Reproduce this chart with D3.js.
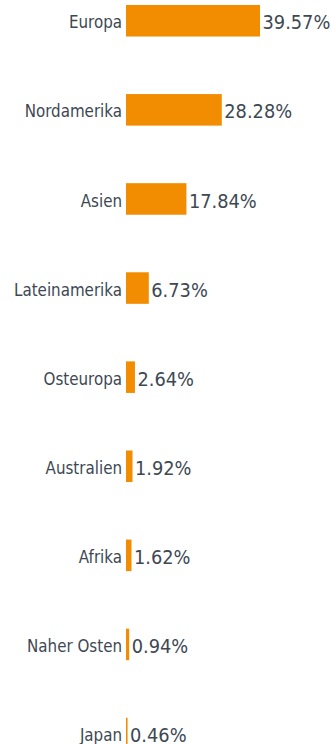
<!DOCTYPE html>
<html>
<head>
<meta charset="utf-8">
<script src="https://cdn.jsdelivr.net/npm/d3@7/dist/d3.min.js"></script>
<style>
  html, body { margin: 0; padding: 0; background: #fff; overflow: hidden; }
  svg { display: block; }
  .lbl { font-family: "DejaVu Sans Condensed", "DejaVu Sans", sans-serif; font-stretch: condensed; }
</style>
</head>
<body>
<div id="chart"></div>
<script>
// Anteil nach Region (%)
const regions = ["Europa", "Nordamerika", "Asien", "Lateinamerika", "Osteuropa",
                 "Australien", "Afrika", "Naher Osten", "Japan"];
const shares = [39.57, 28.28, 17.84, 6.73, 2.64, 1.92, 1.62, 0.94, 0.46];

const width = 331, height = 744;
const barLeft = 126;
const barColor = "#f28c00";
const textColor = "#3d4853";

const data = regions.map((r, i) => ({ region: r, value: shares[i] }));

const svg = d3.select("#chart").append("svg")
  .attr("width", width)
  .attr("height", height);

const x = d3.scaleLinear()
  .domain([0, 39.57])
  .range([barLeft, 260]);

const y = d3.scaleBand()
  .domain(regions)
  .range([-23.8, 778.1])
  .paddingInner(0.646)
  .paddingOuter(0.323);

const rows = svg.append("g").selectAll("g")
  .data(data)
  .join("g")
  .attr("transform", d => `translate(0,${y(d.region)})`);

rows.append("rect")
  .attr("x", x(0))
  .attr("y", 0)
  .attr("width", d => x(d.value) - x(0))
  .attr("height", y.bandwidth())
  .attr("fill", barColor);

rows.append("text")
  .attr("class", "lbl")
  .attr("x", x(0) - 4)
  .attr("y", y.bandwidth() / 2 + 7.6)
  .attr("text-anchor", "end")
  .attr("font-size", 16.8)
  .attr("fill", textColor)
  .text(d => d.region);

rows.append("text")
  .attr("class", "lbl")
  .attr("x", d => x(d.value) + 2.5)
  .attr("y", y.bandwidth() / 2 + 8.6)
  .attr("text-anchor", "start")
  .attr("font-size", 19.8)
  .attr("fill", textColor)
  .text(d => d.value.toFixed(2) + "%");
</script>
</body>
</html>
